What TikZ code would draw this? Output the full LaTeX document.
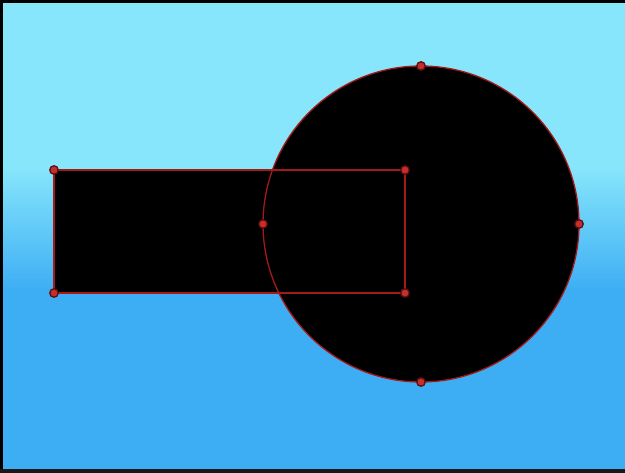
\documentclass[tikz,border=0pt]{standalone}
\usepackage{xcolor}
\usetikzlibrary{calc}
\definecolor{skytop}{RGB}{135,230,251}
\definecolor{skybot}{RGB}{62,174,244}
\definecolor{edgered}{RGB}{165,25,25}
\definecolor{handlered}{RGB}{200,45,45}
\definecolor{handlering}{RGB}{90,15,15}
\begin{document}
\begin{tikzpicture}[x=1pt,y=-1pt,
    outline/.style={draw=edgered,line width=1.3pt},
    handle/.style={circle,fill=handlered,draw=handlering,line width=1.3pt,inner sep=0pt,minimum size=8.5pt}]
  \useasboundingbox (0,0) rectangle (625,473);
  \fill[skytop] (0,0) rectangle (625,168);
  \shade[top color=skytop,bottom color=skybot] (0,167) rectangle (625,290);
  \fill[skybot] (0,289) rectangle (625,473);
  \draw[line width=3pt,black] (0,1.5)--(625,1.5);
  \draw[line width=3pt,black] (1.5,0)--(1.5,473);
  \draw[line width=4pt,black!80!gray] (0,471)--(625,471);
  \fill[black] (54,170) rectangle (405,293);
  \fill[black] (421,224) circle (158);
  \draw[outline] (54,170) rectangle (405,293);
  \draw[outline] (421,224) circle (158);
  \foreach \p/\q in {54/170,405/170,54/293,405/293,421/66,579/224,421/382,263/224}{
    \node[handle] at (\p,\q) {};
  }
\end{tikzpicture}
\end{document}
